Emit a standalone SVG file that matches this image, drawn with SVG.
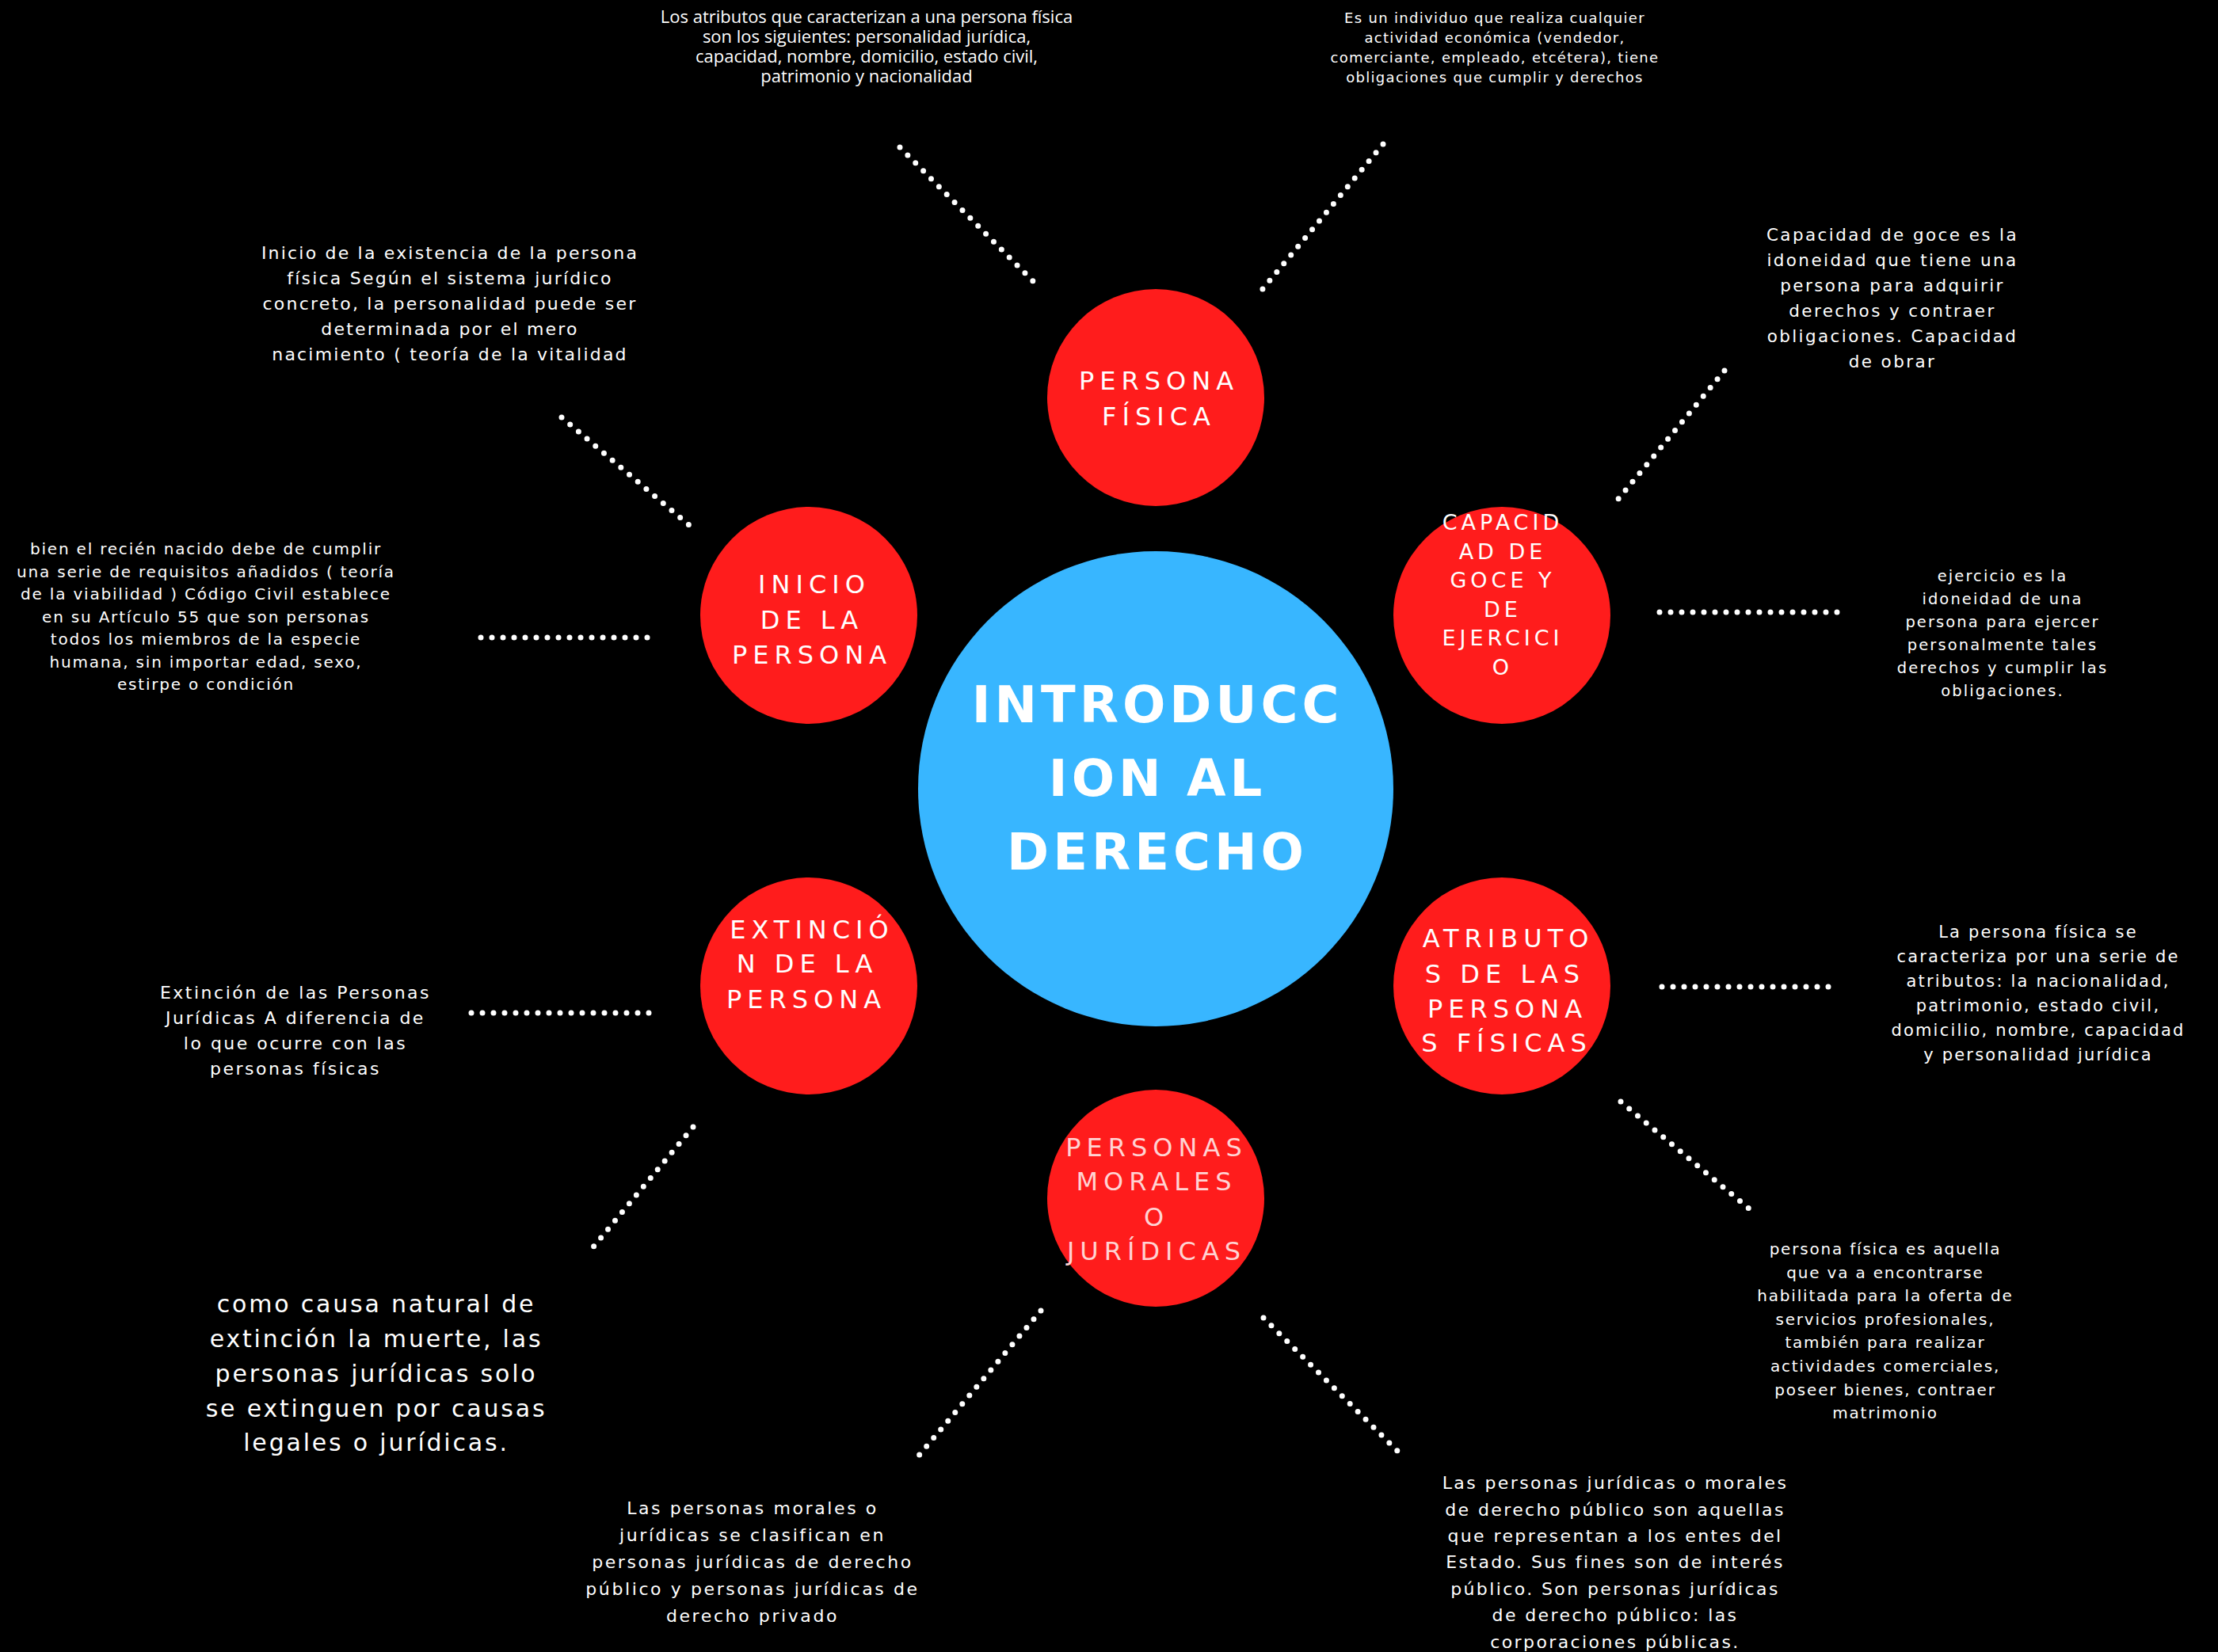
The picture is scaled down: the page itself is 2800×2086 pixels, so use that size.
<svg xmlns="http://www.w3.org/2000/svg" width="2800" height="2086" viewBox="0 0 2800 2086">
<style>
.bg{fill:#000}
.red{fill:#FF1C1C}
.blue{fill:#38B6FF}
.dots{stroke:#fff;stroke-width:7;stroke-linecap:round;stroke-dasharray:0 14;fill:none}
.t{fill:#fff;font-family:"DejaVu Sans","Noto Sans",sans-serif;text-anchor:middle}
.lbl{fill:#fff;font-family:"DejaVu Sans","Noto Sans",sans-serif;text-anchor:middle;font-size:32px;letter-spacing:7px}
.main{fill:#fff;font-family:"DejaVu Sans","Noto Sans",sans-serif;text-anchor:middle;font-size:64px;font-weight:bold;letter-spacing:5px}
</style>
<rect class="bg" x="0" y="0" width="2800" height="2086"/>

<g id="connectors">
<line class="dots" x1="1136" y1="186" x2="1311" y2="362"/>
<line class="dots" x1="1746" y1="182" x2="1589" y2="371"/>
<line class="dots" x1="709" y1="527" x2="871" y2="664"/>
<line class="dots" x1="607" y1="805" x2="820" y2="805"/>
<line class="dots" x1="2177" y1="468" x2="2043" y2="630"/>
<line class="dots" x1="2095" y1="773" x2="2321" y2="773"/>
<line class="dots" x1="595" y1="1279" x2="823" y2="1279"/>
<line class="dots" x1="875" y1="1423" x2="741" y2="1584"/>
<line class="dots" x1="2098" y1="1246" x2="2311" y2="1246"/>
<line class="dots" x1="2046" y1="1391" x2="2209" y2="1527"/>
<line class="dots" x1="1314" y1="1655" x2="1159" y2="1839"/>
<line class="dots" x1="1595" y1="1664" x2="1768" y2="1836"/>
</g>

<g id="node-central">
<circle class="blue" cx="1459" cy="996" r="300"/>
<text class="main"><tspan x="1461" y="912">INTRODUCC</tspan><tspan x="1461" y="1005">ION AL</tspan><tspan x="1461" y="1098">DERECHO</tspan></text>
</g>

<g id="node-persona-fisica">
<circle class="red" cx="1459" cy="502" r="137"/>
<text class="lbl"><tspan x="1463" y="492">PERSONA</tspan><tspan x="1463" y="537">FÍSICA</tspan></text>
</g>

<g id="node-inicio">
<circle class="red" cx="1021" cy="777" r="137"/>
<text class="lbl"><tspan x="1028" y="749">INICIO</tspan><tspan x="1025" y="794">DE LA</tspan><tspan x="1025" y="838">PERSONA</tspan></text>
</g>

<g id="node-capacidad">
<circle class="red" cx="1896" cy="777" r="137"/>
<text class="lbl" style="font-size:27px;letter-spacing:5px"><tspan x="1897" y="669">CAPACID</tspan><tspan x="1897" y="706">AD DE</tspan><tspan x="1897" y="742">GOCE Y</tspan><tspan x="1897" y="779">DE</tspan><tspan x="1897" y="815">EJERCICI</tspan><tspan x="1897" y="852">O</tspan></text>
</g>

<g id="node-extincion">
<circle class="red" cx="1021" cy="1245" r="137"/>
<text class="lbl"><tspan x="1025" y="1185">EXTINCIÓ</tspan><tspan x="1019" y="1228">N DE LA</tspan><tspan x="1018" y="1273">PERSONA</tspan></text>
</g>

<g id="node-atributos">
<circle class="red" cx="1896" cy="1245" r="137"/>
<text class="lbl"><tspan x="1904" y="1196">ATRIBUTO</tspan><tspan x="1900" y="1241">S DE LAS</tspan><tspan x="1903" y="1285">PERSONA</tspan><tspan x="1902" y="1328">S FÍSICAS</tspan></text>
</g>

<g id="node-personas-morales">
<circle class="red" cx="1459" cy="1513" r="137"/>
<text class="lbl" style="fill:#FFD3D3"><tspan x="1460" y="1460">PERSONAS</tspan><tspan x="1460" y="1503">MORALES</tspan><tspan x="1460" y="1548">O</tspan><tspan x="1460" y="1591">JURÍDICAS</tspan></text>
</g>

<g id="text-atributos-top">
<text class="t" style="font-family:'Open Sans','Noto Sans',sans-serif;font-size:22px"><tspan x="1094" y="29">Los atributos que caracterizan a una persona física</tspan><tspan x="1094" y="54">son los siguientes: personalidad jurídica,</tspan><tspan x="1094" y="79">capacidad, nombre, domicilio, estado civil,</tspan><tspan x="1094" y="104">patrimonio y nacionalidad</tspan></text>
</g>

<g id="text-individuo">
<text class="t" style="font-size:18px;letter-spacing:1.3px"><tspan x="1887" y="29">Es un individuo que realiza cualquier</tspan><tspan x="1887" y="54">actividad económica (vendedor,</tspan><tspan x="1887" y="79">comerciante, empleado, etcétera), tiene</tspan><tspan x="1887" y="104">obligaciones que cumplir y derechos</tspan></text>
</g>

<g id="text-inicio">
<text class="t" style="font-size:22px;letter-spacing:2.2px"><tspan x="568" y="327">Inicio de la existencia de la persona</tspan><tspan x="568" y="359">física Según el sistema jurídico</tspan><tspan x="568" y="391">concreto, la personalidad puede ser</tspan><tspan x="568" y="423">determinada por el mero</tspan><tspan x="568" y="455">nacimiento ( teoría de la vitalidad</tspan></text>
</g>

<g id="text-recien-nacido">
<text class="t" style="font-size:20px;letter-spacing:1.8px"><tspan x="260" y="700">bien el recién nacido debe de cumplir</tspan><tspan x="260" y="729">una serie de requisitos añadidos ( teoría</tspan><tspan x="260" y="757">de la viabilidad ) Código Civil establece</tspan><tspan x="260" y="786">en su Artículo 55 que son personas</tspan><tspan x="260" y="814">todos los miembros de la especie</tspan><tspan x="260" y="843">humana, sin importar edad, sexo,</tspan><tspan x="260" y="871">estirpe o condición</tspan></text>
</g>

<g id="text-goce">
<text class="t" style="font-size:21.5px;letter-spacing:2.4px"><tspan x="2389" y="304">Capacidad de goce es la</tspan><tspan x="2389" y="336">idoneidad que tiene una</tspan><tspan x="2389" y="368">persona para adquirir</tspan><tspan x="2389" y="400">derechos y contraer</tspan><tspan x="2389" y="432">obligaciones. Capacidad</tspan><tspan x="2389" y="464">de obrar</tspan></text>
</g>

<g id="text-ejercicio">
<text class="t" style="font-size:19.5px;letter-spacing:2.1px"><tspan x="2528" y="734">ejercicio es la</tspan><tspan x="2528" y="763">idoneidad de una</tspan><tspan x="2528" y="792">persona para ejercer</tspan><tspan x="2528" y="821">personalmente tales</tspan><tspan x="2528" y="850">derechos y cumplir las</tspan><tspan x="2528" y="879">obligaciones.</tspan></text>
</g>

<g id="text-atributos">
<text class="t" style="font-size:21px;letter-spacing:2.2px"><tspan x="2573" y="1184">La persona física se</tspan><tspan x="2573" y="1215">caracteriza por una serie de</tspan><tspan x="2573" y="1246">atributos: la nacionalidad,</tspan><tspan x="2573" y="1277">patrimonio, estado civil,</tspan><tspan x="2573" y="1308">domicilio, nombre, capacidad</tspan><tspan x="2573" y="1339">y personalidad jurídica</tspan></text>
</g>

<g id="text-persona-fisica">
<text class="t" style="font-size:20px;letter-spacing:1.8px"><tspan x="2380" y="1584">persona física es aquella</tspan><tspan x="2380" y="1614">que va a encontrarse</tspan><tspan x="2380" y="1643">habilitada para la oferta de</tspan><tspan x="2380" y="1673">servicios profesionales,</tspan><tspan x="2380" y="1702">también para realizar</tspan><tspan x="2380" y="1732">actividades comerciales,</tspan><tspan x="2380" y="1762">poseer bienes, contraer</tspan><tspan x="2380" y="1791">matrimonio</tspan></text>
</g>

<g id="text-derecho-publico">
<text class="t" style="font-size:22px;letter-spacing:2.4px"><tspan x="2039" y="1880">Las personas jurídicas o morales</tspan><tspan x="2039" y="1914">de derecho público son aquellas</tspan><tspan x="2039" y="1947">que representan a los entes del</tspan><tspan x="2039" y="1980">Estado. Sus fines son de interés</tspan><tspan x="2039" y="2014">público. Son personas jurídicas</tspan><tspan x="2039" y="2047">de derecho público: las</tspan><tspan x="2039" y="2081">corporaciones públicas.</tspan></text>
</g>

<g id="text-clasificacion">
<text class="t" style="font-size:22px;letter-spacing:2.6px"><tspan x="950" y="1912">Las personas morales o</tspan><tspan x="950" y="1946">jurídicas se clasifican en</tspan><tspan x="950" y="1980">personas jurídicas de derecho</tspan><tspan x="950" y="2014">público y personas jurídicas de</tspan><tspan x="950" y="2048">derecho privado</tspan></text>
</g>

<g id="text-extincion">
<text class="t" style="font-size:22px;letter-spacing:2.5px"><tspan x="373" y="1261">Extinción de las Personas</tspan><tspan x="373" y="1293">Jurídicas A diferencia de</tspan><tspan x="373" y="1325">lo que ocurre con las</tspan><tspan x="373" y="1357">personas físicas</tspan></text>
</g>

<g id="text-causa-natural">
<text class="t" style="font-size:30px;letter-spacing:2.8px"><tspan x="475" y="1657">como causa natural de</tspan><tspan x="475" y="1701">extinción la muerte, las</tspan><tspan x="475" y="1745">personas jurídicas solo</tspan><tspan x="475" y="1789">se extinguen por causas</tspan><tspan x="475" y="1832">legales o jurídicas.</tspan></text>
</g>
</svg>
